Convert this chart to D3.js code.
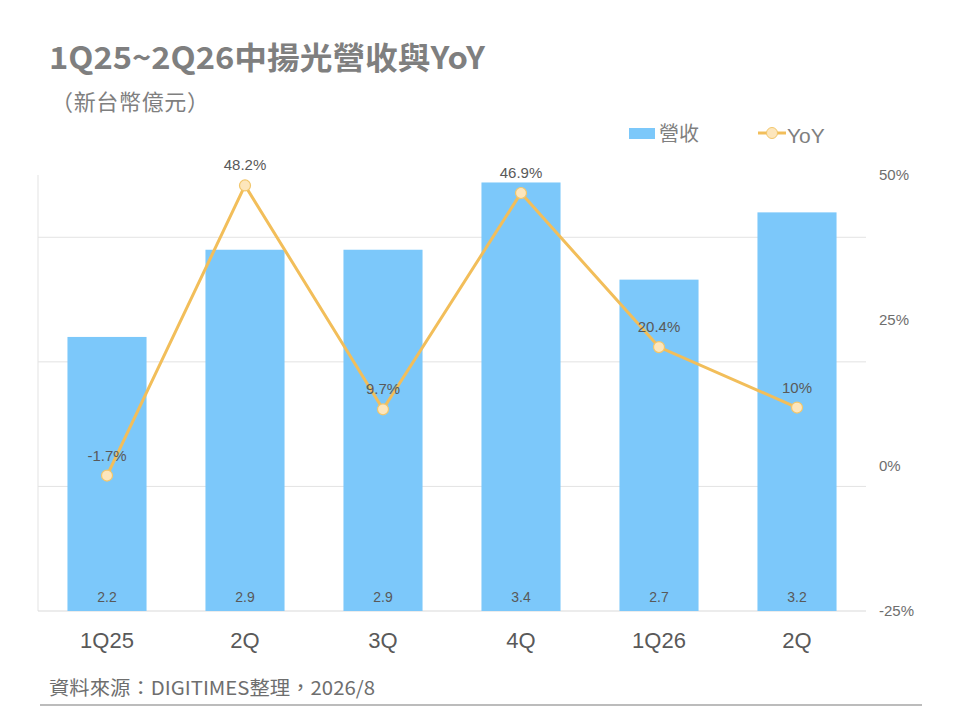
<!DOCTYPE html>
<html>
<head>
<meta charset="utf-8">
<script src="https://cdn.jsdelivr.net/npm/d3@7"></script>
<style>
  body { margin: 0; background: #fff; }
  text { font-family: "Liberation Sans", "Noto Sans CJK TC", sans-serif; }
  .cjk { font-family: "Noto Sans CJK TC", "Liberation Sans", sans-serif; }
</style>
</head>
<body>
<div id="chart"></div>
<script>
// quarters on the x axis
let quarters = ["1Q25", "2Q", "3Q", "4Q", "1Q26", "2Q"];
// revenue, NT$ 100m
let revenue = [2.2, 2.9, 2.9, 3.44, 2.66, 3.2];
// YoY growth, %
let yoy = [-1.7, 48.2, 9.7, 46.9, 20.4, 10];
let yoyLabels = ["-1.7%", "48.2%", "9.7%", "46.9%", "20.4%", "10%"];
let rightTicks = [-25, 0, 25, 50];
let leftGrid = [1, 2, 3];

let width = 960, height = 720;
let margin = {top: 175, right: 94, bottom: 109, left: 38};
let plotW = width - margin.left - margin.right;
let plotH = height - margin.top - margin.bottom;

let svg = d3.select("#chart").append("svg")
    .attr("width", width)
    .attr("height", height);

// title + unit
svg.append("text")
    .attr("class", "cjk")
    .attr("x", 49).attr("y", 69)
    .attr("font-size", 31).attr("font-weight", "bold")
    .attr("fill", "#7f7f7f")
    .attr("textLength", 436)
    .attr("lengthAdjust", "spacingAndGlyphs")
    .text("1Q25~2Q26中揚光營收與YoY");
svg.append("text")
    .attr("class", "cjk")
    .attr("x", 51).attr("y", 110)
    .attr("font-size", 22)
    .attr("fill", "#7f7f7f")
    .attr("textLength", 158)
    .text("（新台幣億元）");

let g = svg.append("g")
    .attr("transform", "translate(" + margin.left + "," + margin.top + ")");

let x = d3.scaleBand()
    .domain(d3.range(quarters.length))
    .range([0, plotW])
    .paddingInner(0.427)
    .paddingOuter(0.2135);

let yLeft = d3.scaleLinear().domain([0, 3.5]).range([plotH, 0]);
let yRight = d3.scaleLinear().domain([-25, 50]).range([plotH, 0]);

// gridlines
g.selectAll(".grid")
    .data(leftGrid)
    .enter()
    .append("line")
    .attr("x1", 0).attr("x2", plotW)
    .attr("y1", d => yLeft(d)).attr("y2", d => yLeft(d))
    .attr("stroke", "#e3e3e3").attr("stroke-width", 1);

// left border and baseline
g.append("line")
    .attr("x1", 0).attr("x2", 0)
    .attr("y1", 0).attr("y2", plotH)
    .attr("stroke", "#e3e3e3");
g.append("line")
    .attr("x1", 0).attr("x2", plotW)
    .attr("y1", plotH).attr("y2", plotH)
    .attr("stroke", "#d9d9d9");

// bars
g.selectAll(".bar")
    .data(revenue)
    .enter()
    .append("rect")
    .attr("x", (d, i) => x(i))
    .attr("y", d => yLeft(d))
    .attr("width", x.bandwidth())
    .attr("height", d => plotH - yLeft(d))
    .attr("fill", "#7cc8fa");

g.selectAll(".barLabel")
    .data(revenue)
    .enter()
    .append("text")
    .attr("x", (d, i) => x(i) + x.bandwidth() / 2)
    .attr("y", plotH - 9)
    .attr("text-anchor", "middle")
    .attr("font-size", 14)
    .attr("fill", "#595959")
    .text(d => d.toFixed(1));

// x tick labels
g.selectAll(".xtick")
    .data(quarters)
    .enter()
    .append("text")
    .attr("x", (d, i) => x(i) + x.bandwidth() / 2)
    .attr("y", plotH + 37)
    .attr("text-anchor", "middle")
    .attr("font-size", 22)
    .attr("fill", "#595959")
    .text(d => d);

// right axis labels
g.selectAll(".rtick")
    .data(rightTicks)
    .enter()
    .append("text")
    .attr("x", plotW + 13)
    .attr("y", d => yRight(d) + 5)
    .attr("font-size", 15)
    .attr("fill", "#6e6e6e")
    .text(d => d + "%");

// YoY line
let line = d3.line()
    .x((d, i) => x(i) + x.bandwidth() / 2)
    .y(d => yRight(d));

g.append("path")
    .datum(yoy)
    .attr("d", line)
    .attr("fill", "none")
    .attr("stroke", "#f2be5a")
    .attr("stroke-width", 3);

g.selectAll(".pt")
    .data(yoy)
    .enter()
    .append("circle")
    .attr("cx", (d, i) => x(i) + x.bandwidth() / 2)
    .attr("cy", d => yRight(d))
    .attr("r", 5.5)
    .attr("fill", "#fde6bc")
    .attr("stroke", "#f2c66b")
    .attr("stroke-width", 1.2);

g.selectAll(".ptLabel")
    .data(yoy)
    .enter()
    .append("text")
    .attr("x", (d, i) => x(i) + x.bandwidth() / 2)
    .attr("y", d => yRight(d) - 15)
    .attr("text-anchor", "middle")
    .attr("font-size", 15)
    .attr("fill", "#595959")
    .text((d, i) => yoyLabels[i]);

// legend
let legend = svg.append("g");
legend.append("rect")
    .attr("x", 629).attr("y", 128)
    .attr("width", 26).attr("height", 11)
    .attr("fill", "#7cc8fa");
legend.append("text")
    .attr("class", "cjk")
    .attr("x", 659).attr("y", 141)
    .attr("font-size", 20)
    .attr("fill", "#7f7f7f")
    .text("營收");
legend.append("line")
    .attr("x1", 758).attr("x2", 786)
    .attr("y1", 133).attr("y2", 133)
    .attr("stroke", "#f2be5a").attr("stroke-width", 3);
legend.append("circle")
    .attr("cx", 772).attr("cy", 133).attr("r", 5.5)
    .attr("fill", "#fde6bc")
    .attr("stroke", "#f2c66b");
legend.append("text")
    .attr("x", 787).attr("y", 143)
    .attr("font-size", 21)
    .attr("fill", "#7f7f7f")
    .text("YoY");

// source
svg.append("text")
    .attr("class", "cjk")
    .attr("x", 49).attr("y", 695)
    .attr("font-size", 19)
    .attr("fill", "#6e6e6e")
    .attr("textLength", 326)
    .attr("lengthAdjust", "spacingAndGlyphs")
    .text("資料來源：DIGITIMES整理，2026/8");
svg.append("line")
    .attr("x1", 40).attr("x2", 922)
    .attr("y1", 705).attr("y2", 705)
    .attr("stroke", "#a6a6a6").attr("stroke-width", 1.5);
</script>
</body>
</html>
